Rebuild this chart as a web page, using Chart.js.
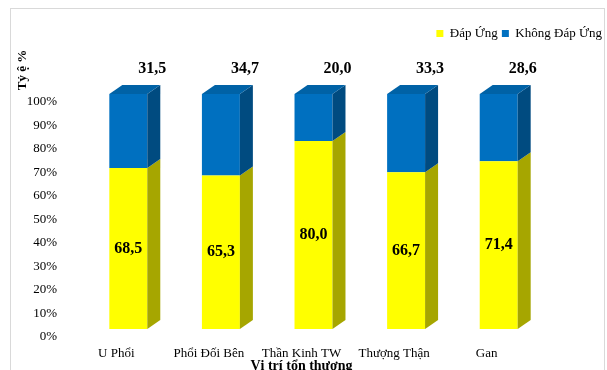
<!DOCTYPE html>
<html>
<head>
<meta charset="utf-8">
<script src="https://cdn.jsdelivr.net/npm/chart.js@4/dist/chart.umd.min.js"></script>
<style>
  html, body { margin: 0; padding: 0; background: #fff; overflow: hidden; }
  #wrap { position: relative; width: 607px; height: 400px; }
  #frame { position: absolute; left: 10px; top: 8px; width: 593px; height: 420px; border: 1px solid #d9d9d9; }
  #chart { position: absolute; left: 0; top: 0; }
</style>
</head>
<body>
<div id="wrap">
  <div id="frame"></div>
  <canvas id="chart" width="607" height="400"></canvas>
</div>
<script>
  // データ
  const categories = ["U Phổi", "Phổi Đối Bên", "Thần Kinh TW", "Thượng Thận", "Gan"];
  const dapUng = [68.5, 65.3, 80.0, 66.7, 71.4];
  const khongDapUng = [31.5, 34.7, 20.0, 33.3, 28.6];
  const seriesNames = ["Đáp Ứng", "Không Đáp Ứng"];

  const serif = "'Liberation Serif', 'Times New Roman', serif";

  // 3D風の側面と上面、ラベル
  const bar3d = {
    id: "bar3d",
    beforeDatasetsDraw(chart) {
      chart.ctx.save();
      chart.ctx.translate(12, -8);
    },
    afterDatasetsDraw(chart) {
      const ctx = chart.ctx;
      const dx = 13, dy = -9;
      const sides = ["#a6a600", "#004b80"];
      chart.data.datasets.forEach((ds, di) => {
        chart.getDatasetMeta(di).data.forEach((bar) => {
          const right = bar.x + bar.width / 2;
          const left = bar.x - bar.width / 2;
          ctx.fillStyle = sides[di];
          ctx.beginPath();
          ctx.moveTo(right, bar.y);
          ctx.lineTo(right + dx, bar.y + dy);
          ctx.lineTo(right + dx, bar.base + dy);
          ctx.lineTo(right, bar.base);
          ctx.closePath();
          ctx.fill();
          if (di === chart.data.datasets.length - 1) {
            ctx.fillStyle = "#0062a6";
            ctx.beginPath();
            ctx.moveTo(left, bar.y);
            ctx.lineTo(left + dx, bar.y + dy);
            ctx.lineTo(right + dx, bar.y + dy);
            ctx.lineTo(right, bar.y);
            ctx.closePath();
            ctx.fill();
          }
        });
      });
      ctx.fillStyle = "#000";
      ctx.font = "bold 16px " + serif;
      ctx.textAlign = "center";
      ctx.textBaseline = "middle";
      chart.getDatasetMeta(0).data.forEach((bar, i) => {
        ctx.fillText(dapUng[i].toFixed(1).replace(".", ","), bar.x, (bar.y + bar.base) / 2);
      });
      chart.getDatasetMeta(1).data.forEach((bar, i) => {
        ctx.fillText(khongDapUng[i].toFixed(1).replace(".", ","), bar.x + 24, bar.y - 25);
      });
      ctx.restore();

      // 縦軸タイトル
      ctx.save();
      ctx.translate(23, 70);
      ctx.rotate(-Math.PI / 2);
      ctx.font = "bold 13px " + serif;
      ctx.textAlign = "center";
      ctx.textBaseline = "middle";
      ctx.fillText("Tỷ ệ %", 0, 0);
      ctx.restore();
    },
  };

  const ctx = document.getElementById("chart").getContext("2d");
  new Chart(ctx, {
    type: "bar",
    data: {
      labels: categories,
      datasets: [
        { label: seriesNames[0], data: dapUng, backgroundColor: "#ffff00", clip: false,
          barPercentage: 0.82, categoryPercentage: 0.5 },
        { label: seriesNames[1], data: khongDapUng, backgroundColor: "#0070c0", clip: false,
          barPercentage: 0.82, categoryPercentage: 0.5 },
      ],
    },
    options: {
      responsive: false,
      animation: false,
      layout: { padding: { left: 10, right: 1, top: 23, bottom: 0 } },
      plugins: {
        legend: {
          position: "top",
          align: "end",
          labels: {
            boxWidth: 7,
            boxHeight: 7,
            padding: 4,
            color: "#000",
            font: { family: serif, size: 13 },
          },
        },
        tooltip: { enabled: false },
      },
      scales: {
        x: {
          stacked: true,
          grid: { display: false, drawTicks: false },
          border: { display: false },
          ticks: { color: "#000", padding: 9, font: { family: serif, size: 13 }, maxRotation: 0 },
          title: {
            display: true,
            text: "Vị trí tổn thương",
            color: "#000",
            font: { family: serif, size: 14, weight: "bold" },
            padding: { top: 0, bottom: 25 },
          },
          afterFit(s) { s.height = 63; },
        },
        xTop: {
          position: "top",
          grid: { display: false, drawTicks: false },
          border: { display: false },
          ticks: { display: false },
          afterFit(s) { s.height = 52; },
        },
        y: {
          stacked: true,
          min: 0,
          max: 100,
          grid: { display: false, drawTicks: false },
          border: { display: false },
          ticks: {
            stepSize: 10,
            padding: 13,
            color: "#000",
            font: { family: serif, size: 13 },
            callback: (v) => v + "%",
          },
          afterFit(s) { s.width = 60; },
        },
        y2: {
          position: "right",
          grid: { display: false, drawTicks: false },
          border: { display: false },
          ticks: { display: false },
          afterFit(s) { s.width = 73; },
        },
      },
    },
    plugins: [bar3d],
  });
</script>
</body>
</html>
